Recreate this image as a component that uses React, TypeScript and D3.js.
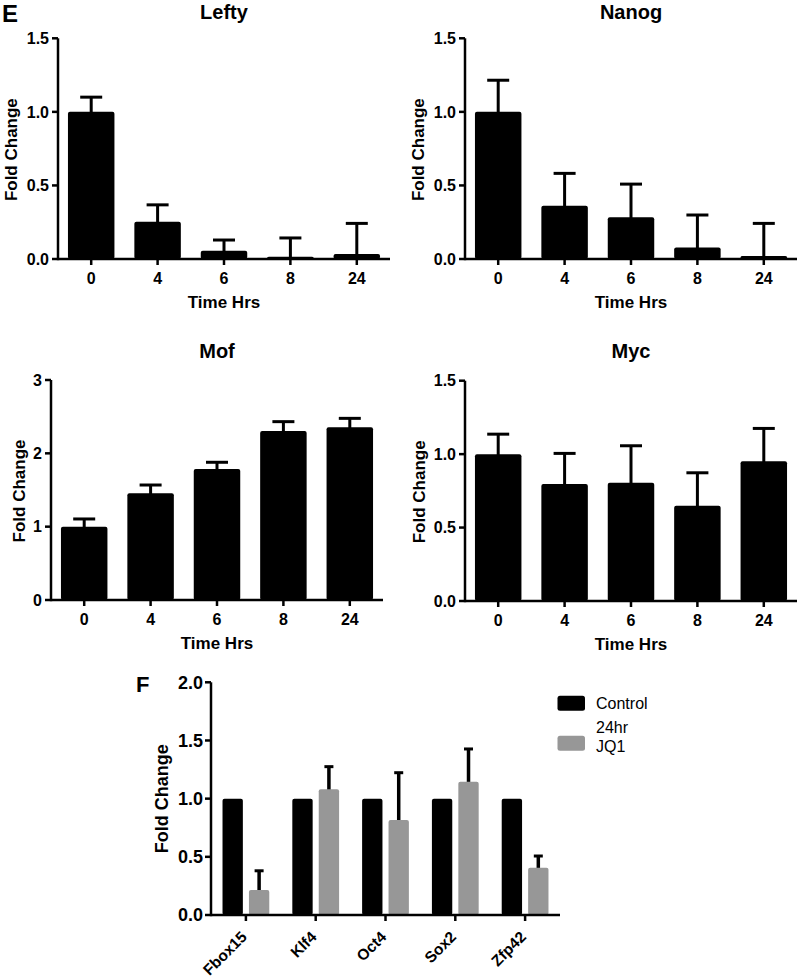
import React from "react";
import * as d3 from "d3";

const timeLabels = ["0", "4", "6", "8", "24"];

const leftyMean = [1.0, 0.253, 0.056, 0.016, 0.034];
const leftySem = [0.1, 0.115, 0.073, 0.127, 0.208];

const nanogMean = [1.0, 0.362, 0.283, 0.079, 0.02];
const nanogSem = [0.215, 0.22, 0.226, 0.22, 0.222];

const mofMean = [1.0, 1.455, 1.786, 2.305, 2.355];
const mofSem = [0.105, 0.113, 0.092, 0.127, 0.122];

const mycMean = [1.0, 0.796, 0.805, 0.648, 0.952];
const mycSem = [0.136, 0.209, 0.252, 0.225, 0.223];

const genes = ["Fbox15", "Klf4", "Oct4", "Sox2", "Zfp42"];
const controlMean = [1, 1, 1, 1, 1];
const jq1Mean = [0.215, 1.08, 0.817, 1.146, 0.407];
const jq1Sem = [0.165, 0.195, 0.406, 0.281, 0.1];

const seriesNames = ["Control", "24hr JQ1"];
const seriesColors = ["#000000", "#979797"];

const FONT = "'Liberation Sans', Arial, Helvetica, sans-serif";

type PanelProps = {
  title: string;
  mean: number[];
  sem: number[];
  ax: number;
  bx: number;
  y0: number;
  yT: number;
  max: number;
  ticks: number[];
  fmt: (v: number) => string;
  titleY: number;
  ylabX: number;
};

function TimePanel(p: PanelProps) {
  const x = d3
    .scaleBand<string>()
    .domain(timeLabels)
    .range([p.ax, p.bx])
    .paddingInner(0.3)
    .paddingOuter(0.15);
  const y = d3.scaleLinear().domain([0, p.max]).range([p.y0, p.yT]);
  const bw = x.bandwidth();
  const cx = (c: string) => (x(c) as number) + bw / 2;
  const centerX = (p.ax + p.bx) / 2;
  return (
    <g>
      {timeLabels.map((c, i) => {
        const top = y(p.mean[i]);
        const eTop = y(p.mean[i] + p.sem[i]);
        return (
          <g key={c}>
            <line x1={cx(c)} x2={cx(c)} y1={top + 2} y2={eTop} stroke="#000" strokeWidth={3} />
            <line x1={cx(c) - 11} x2={cx(c) + 11} y1={eTop} y2={eTop} stroke="#000" strokeWidth={3} />
            <rect
              x={x(c)}
              y={top}
              width={bw}
              height={Math.max(0, p.y0 - top)}
              rx={2}
              fill="#000"
            />
          </g>
        );
      })}
      <line x1={p.ax} x2={p.ax} y1={p.yT} y2={p.y0 + 1.2} stroke="#000" strokeWidth={2.5} />
      <line x1={p.ax} x2={p.bx} y1={p.y0} y2={p.y0} stroke="#000" strokeWidth={2.5} />
      {p.ticks.map((t) => (
        <g key={t}>
          <line x1={p.ax - 6} x2={p.ax} y1={y(t)} y2={y(t)} stroke="#000" strokeWidth={2.5} />
          <text
            x={p.ax - 9}
            y={y(t)}
            dy="0.36em"
            textAnchor="end"
            fontFamily={FONT}
            fontWeight="bold"
            fontSize={16}
          >
            {p.fmt(t)}
          </text>
        </g>
      ))}
      {timeLabels.map((c) => (
        <g key={"xt" + c}>
          <line x1={cx(c)} x2={cx(c)} y1={p.y0} y2={p.y0 + 6} stroke="#000" strokeWidth={2.5} />
          <text
            x={cx(c)}
            y={p.y0 + 25}
            textAnchor="middle"
            fontFamily={FONT}
            fontWeight="bold"
            fontSize={16}
          >
            {c}
          </text>
        </g>
      ))}
      <text
        x={centerX}
        y={p.y0 + 49}
        textAnchor="middle"
        fontFamily={FONT}
        fontWeight="bold"
        fontSize={17}
      >
        Time Hrs
      </text>
      <text
        x={centerX}
        y={p.titleY}
        textAnchor="middle"
        fontFamily={FONT}
        fontWeight="bold"
        fontSize={20}
      >
        {p.title}
      </text>
      <text
        transform={`translate(${p.ylabX},${(p.y0 + p.yT) / 2 + 1}) rotate(-90)`}
        textAnchor="middle"
        fontFamily={FONT}
        fontWeight="bold"
        fontSize={17}
      >
        Fold Change
      </text>
    </g>
  );
}

function GenePanel() {
  const ax = 211;
  const bx = 560;
  const y0 = 915;
  const yT = 682.3;
  const x = d3
    .scaleBand<string>()
    .domain(genes)
    .range([ax, bx])
    .paddingInner(0.33)
    .paddingOuter(0.165);
  const sub = d3
    .scaleBand<string>()
    .domain(seriesNames)
    .range([0, x.bandwidth()])
    .paddingInner(0.23);
  const y = d3.scaleLinear().domain([0, 2]).range([y0, yT]);
  const ticks = d3.range(0, 2.01, 0.5);
  const means = [controlMean, jq1Mean];
  const sems = [controlMean.map(() => 0), jq1Sem];
  const bw = sub.bandwidth();
  return (
    <g>
      {genes.map((g, i) => (
        <g key={g}>
          {seriesNames.map((s, k) => {
            const bxp = (x(g) as number) + (sub(s) as number);
            const top = y(means[k][i]);
            const e = sems[k][i];
            const eTop = y(means[k][i] + e);
            const c = bxp + bw / 2;
            return (
              <g key={s}>
                {e > 0 && (
                  <>
                    <line x1={c} x2={c} y1={top + 2} y2={eTop} stroke="#000" strokeWidth={3.5} />
                    <line x1={c - 4.5} x2={c + 4.5} y1={eTop} y2={eTop} stroke="#000" strokeWidth={3} />
                  </>
                )}
                <rect
                  x={bxp}
                  y={top}
                  width={bw}
                  height={y0 - top}
                  rx={2}
                  fill={seriesColors[k]}
                />
              </g>
            );
          })}
        </g>
      ))}
      <line x1={ax} x2={ax} y1={yT} y2={y0 + 1.2} stroke="#000" strokeWidth={2.5} />
      <line x1={ax} x2={bx} y1={y0} y2={y0} stroke="#000" strokeWidth={2.5} />
      {ticks.map((t) => (
        <g key={t}>
          <line x1={ax - 6} x2={ax} y1={y(t)} y2={y(t)} stroke="#000" strokeWidth={2.5} />
          <text
            x={ax - 8}
            y={y(t)}
            dy="0.36em"
            textAnchor="end"
            fontFamily={FONT}
            fontWeight="bold"
            fontSize={18}
          >
            {d3.format(".1f")(t)}
          </text>
        </g>
      ))}
      {genes.map((g) => {
        const c = (x(g) as number) + x.bandwidth() / 2;
        return (
          <g key={"gx" + g}>
            <line x1={c} x2={c} y1={y0} y2={y0 + 6} stroke="#000" strokeWidth={2.5} />
            <text
              transform={`translate(${c - 6},${y0 + 15}) rotate(-45)`}
              textAnchor="end"
              fontFamily={FONT}
              fontWeight="bold"
              fontSize={15.5}
              dy="0.72em"
            >
              {g}
            </text>
          </g>
        );
      })}
      <text
        transform={`translate(168,${(y0 + yT) / 2}) rotate(-90)`}
        textAnchor="middle"
        fontFamily={FONT}
        fontWeight="bold"
        fontSize={18}
      >
        Fold Change
      </text>
      {seriesNames.map((s, k) => (
        <rect
          key={"lg" + s}
          x={557.5}
          y={695.7 + k * 40}
          width={27.5}
          height={15}
          rx={2.5}
          fill={seriesColors[k]}
        />
      ))}
      <text x={596} y={709} fontFamily={FONT} fontSize={16}>
        Control
      </text>
      <text x={596} y={733} fontFamily={FONT} fontSize={16}>
        24hr
      </text>
      <text x={596} y={752} fontFamily={FONT} fontSize={16}>
        JQ1
      </text>
    </g>
  );
}

export default function App() {
  const f1 = d3.format(".1f");
  const f0 = d3.format("d");
  return (
    <svg
      width={800}
      height={980}
      viewBox="0 0 800 980"
      style={{ position: "absolute", left: 0, top: 0, background: "#fff" }}
    >
      <rect x={0} y={0} width={800} height={980} fill="#fff" />
      <text x={2} y={22} fontFamily={FONT} fontWeight="bold" fontSize={24}>
        E
      </text>
      <text x={136} y={692} fontFamily={FONT} fontWeight="bold" fontSize={22}>
        F
      </text>
      <TimePanel
        title="Lefty"
        mean={leftyMean}
        sem={leftySem}
        ax={58}
        bx={390}
        y0={259}
        yT={38.3}
        max={1.5}
        ticks={[0, 0.5, 1, 1.5]}
        fmt={f1}
        titleY={19}
        ylabX={17}
      />
      <TimePanel
        title="Nanog"
        mean={nanogMean}
        sem={nanogSem}
        ax={465}
        bx={797}
        y0={259}
        yT={38.3}
        max={1.5}
        ticks={[0, 0.5, 1, 1.5]}
        fmt={f1}
        titleY={19}
        ylabX={424}
      />
      <TimePanel
        title="Mof"
        mean={mofMean}
        sem={mofSem}
        ax={51}
        bx={383}
        y0={600}
        yT={380}
        max={3}
        ticks={[0, 1, 2, 3]}
        fmt={f0}
        titleY={358}
        ylabX={24.5}
      />
      <TimePanel
        title="Myc"
        mean={mycMean}
        sem={mycSem}
        ax={465}
        bx={797}
        y0={601}
        yT={380.7}
        max={1.5}
        ticks={[0, 0.5, 1, 1.5]}
        fmt={f1}
        titleY={358}
        ylabX={425}
      />
      <GenePanel />
    </svg>
  );
}
